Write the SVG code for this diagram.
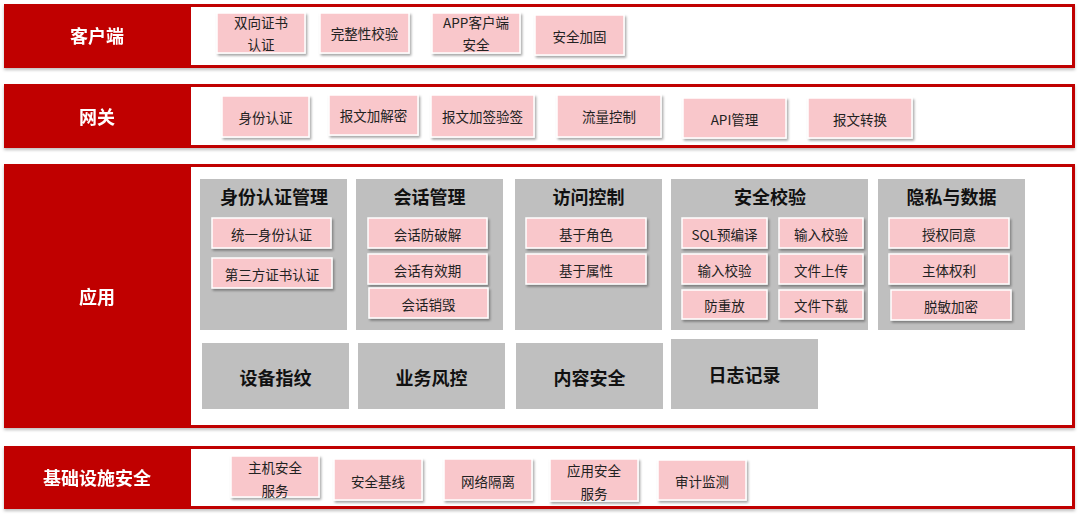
<svg xmlns="http://www.w3.org/2000/svg" width="1080" height="517" viewBox="0 0 1080 517">
<defs>
<filter id="sh" x="-10%" y="-10%" width="130%" height="140%">
<feDropShadow dx="1.5" dy="2" stdDeviation="1.2" flood-color="#000" flood-opacity="0.35"/>
</filter>
<filter id="bsh" x="-2%" y="-5%" width="104%" height="115%">
<feDropShadow dx="0" dy="2" stdDeviation="1.5" flood-color="#000" flood-opacity="0.25"/>
</filter>
<style>
.frame{fill:#fff;stroke:#C00000;stroke-width:3}
.lab{fill:#C00000}
.labt{fill:#fff;font-family:"Noto Sans CJK SC","Noto Sans",sans-serif;font-weight:bold;font-size:18px;text-anchor:middle;dominant-baseline:central}
.pk{fill:#F9C7CB;stroke:#fff;stroke-width:1.5;filter:url(#sh)}
.pt{fill:#222;font-family:"Noto Sans CJK SC","Noto Sans",sans-serif;font-size:13.5px;text-anchor:middle;dominant-baseline:central}
.gr{fill:#BFBFBF}
.gt{fill:#111;font-family:"Noto Sans CJK SC","Noto Sans",sans-serif;font-weight:bold;font-size:18px;text-anchor:middle;dominant-baseline:central}
</style>
</defs>

<g id="band-client" filter="url(#bsh)">
<rect class="frame" x="5.5" y="5.5" width="1068" height="61"/>
<rect class="lab" x="4" y="4" width="187" height="64"/>
<text class="labt" x="97" y="35">客户端</text>
</g>
<g id="band-gateway" filter="url(#bsh)">
<rect class="frame" x="5.5" y="85.5" width="1068" height="61"/>
<rect class="lab" x="4" y="84" width="187" height="64"/>
<text class="labt" x="97" y="116">网关</text>
</g>
<g id="band-app" filter="url(#bsh)">
<rect class="frame" x="5.5" y="165.5" width="1068" height="261"/>
<rect class="lab" x="4" y="164" width="187" height="264"/>
<text class="labt" x="97" y="296">应用</text>
</g>
<g id="band-infra" filter="url(#bsh)">
<rect class="frame" x="5.5" y="447.5" width="1068" height="60"/>
<rect class="lab" x="4" y="446" width="187" height="63"/>
<text class="labt" x="97" y="477">基础设施安全</text>
</g>

<!-- client -->
<g id="c1"><rect class="pk" x="217" y="13" width="88" height="40"/><text class="pt" x="261" y="22">双向证书</text><text class="pt" x="261" y="44">认证</text></g>
<g id="c2"><rect class="pk" x="320" y="13" width="89" height="40"/><text class="pt" x="364.5" y="33">完整性校验</text></g>
<g id="c3"><rect class="pk" x="432" y="13" width="88" height="40"/><text class="pt" x="476" y="22">APP客户端</text><text class="pt" x="476" y="44">安全</text></g>
<g id="c4"><rect class="pk" x="535" y="15" width="89" height="40"/><text class="pt" x="579.5" y="36">安全加固</text></g>

<!-- gateway -->
<g id="g1"><rect class="pk" x="222" y="96" width="87" height="41"/><text class="pt" x="265.5" y="117">身份认证</text></g>
<g id="g2"><rect class="pk" x="329" y="95" width="89" height="40"/><text class="pt" x="373.5" y="115">报文加解密</text></g>
<g id="g3"><rect class="pk" x="431" y="95" width="103" height="42"/><text class="pt" x="482.5" y="116">报文加签验签</text></g>
<g id="g4"><rect class="pk" x="557" y="95" width="104" height="42"/><text class="pt" x="609" y="116">流量控制</text></g>
<g id="g5"><rect class="pk" x="683" y="98" width="103" height="40"/><text class="pt" x="734.5" y="119">API管理</text></g>
<g id="g6"><rect class="pk" x="808" y="98" width="104" height="40"/><text class="pt" x="860" y="119">报文转换</text></g>

<!-- app columns -->
<g id="col-identity">
<rect class="gr" x="200" y="179" width="147" height="151"/>
<text class="gt" x="274" y="196">身份认证管理</text>
<rect class="pk" x="212" y="218" width="119" height="30"/><text class="pt" x="271.5" y="234">统一身份认证</text>
<rect class="pk" x="212" y="258" width="120" height="30"/><text class="pt" x="272" y="274">第三方证书认证</text>
</g>
<g id="col-session">
<rect class="gr" x="356" y="179" width="147" height="151"/>
<text class="gt" x="429.5" y="196">会话管理</text>
<rect class="pk" x="368" y="218" width="119" height="30"/><text class="pt" x="427.5" y="234">会话防破解</text>
<rect class="pk" x="368" y="254" width="119" height="30"/><text class="pt" x="427.5" y="270">会话有效期</text>
<rect class="pk" x="369" y="288" width="119" height="30"/><text class="pt" x="428.5" y="304">会话销毁</text>
</g>
<g id="col-access">
<rect class="gr" x="515" y="179" width="147" height="151"/>
<text class="gt" x="588.5" y="196">访问控制</text>
<rect class="pk" x="526" y="218" width="120" height="30"/><text class="pt" x="586" y="234">基于角色</text>
<rect class="pk" x="526" y="254" width="120" height="30"/><text class="pt" x="586" y="270">基于属性</text>
</g>
<g id="col-check">
<rect class="gr" x="671" y="179" width="197" height="151"/>
<text class="gt" x="770" y="196">安全校验</text>
<rect class="pk" x="682" y="218" width="85" height="30"/><text class="pt" x="724.5" y="234">SQL预编译</text>
<rect class="pk" x="779" y="218" width="84" height="30"/><text class="pt" x="821" y="234">输入校验</text>
<rect class="pk" x="682" y="254" width="85" height="30"/><text class="pt" x="724.5" y="270">输入校验</text>
<rect class="pk" x="779" y="254" width="84" height="30"/><text class="pt" x="821" y="270">文件上传</text>
<rect class="pk" x="682" y="290" width="85" height="29"/><text class="pt" x="724.5" y="305">防重放</text>
<rect class="pk" x="779" y="290" width="84" height="29"/><text class="pt" x="821" y="305">文件下载</text>
</g>
<g id="col-privacy">
<rect class="gr" x="878" y="179" width="147" height="151"/>
<text class="gt" x="951.5" y="196">隐私与数据</text>
<rect class="pk" x="889" y="218" width="120" height="30"/><text class="pt" x="949" y="234">授权同意</text>
<rect class="pk" x="889" y="254" width="120" height="30"/><text class="pt" x="949" y="270">主体权利</text>
<rect class="pk" x="891" y="290" width="120" height="30"/><text class="pt" x="951" y="306">脱敏加密</text>
</g>

<g id="a-device"><rect class="gr" x="202" y="343" width="147" height="66"/><text class="gt" x="275.5" y="377">设备指纹</text></g>
<g id="a-risk"><rect class="gr" x="358" y="343" width="147" height="66"/><text class="gt" x="431.5" y="377">业务风控</text></g>
<g id="a-content"><rect class="gr" x="516" y="343" width="147" height="66"/><text class="gt" x="589.5" y="377">内容安全</text></g>
<g id="a-log"><rect class="gr" x="671" y="339" width="147" height="70"/><text class="gt" x="744.5" y="374">日志记录</text></g>

<!-- infra -->
<g id="i1"><rect class="pk" x="231" y="456" width="88" height="41"/><text class="pt" x="275" y="467">主机安全</text><text class="pt" x="275" y="490">服务</text></g>
<g id="i2"><rect class="pk" x="334" y="459" width="88" height="41"/><text class="pt" x="378" y="481">安全基线</text></g>
<g id="i3"><rect class="pk" x="444" y="459" width="88" height="41"/><text class="pt" x="488" y="481">网络隔离</text></g>
<g id="i4"><rect class="pk" x="550" y="459" width="88" height="42"/><text class="pt" x="594" y="470">应用安全</text><text class="pt" x="594" y="493">服务</text></g>
<g id="i5"><rect class="pk" x="658" y="460" width="88" height="40"/><text class="pt" x="702" y="481">审计监测</text></g>

<g id="connectors"></g>
</svg>
